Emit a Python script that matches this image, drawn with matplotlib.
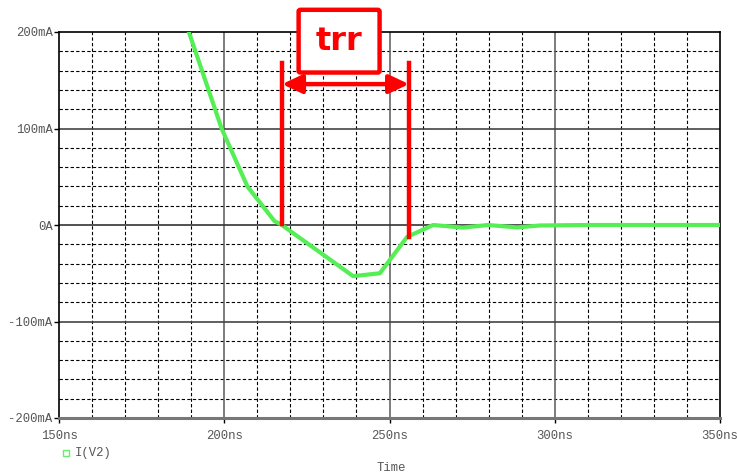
import matplotlib
matplotlib.use("Agg")
import matplotlib.pyplot as plt
from matplotlib.patches import FancyBboxPatch

# I(V2) transient, time in ns, current in mA
t_ns = [186.0, 189.3, 199.2, 207.0, 215.2, 217.0, 239.0, 247.1, 255.3,
        263.2, 272.2, 279.8, 288.6, 295.5, 310.0, 330.0, 350.0]
i_ma = [230.0, 200.0, 100.0, 40.0, 4.0, 1.0, -53.0, -50.0, -12.4,
        0.0, -2.7, 0.0, -2.5, -0.5, 0.0, 0.0, 0.0]

x_ticks = [150, 200, 250, 300, 350]
x_labels = ["150ns", "200ns", "250ns", "300ns", "350ns"]
y_ticks = [-200, -100, 0, 100, 200]
y_labels = ["-200mA", "-100mA", "0A", "100mA", "200mA"]

# reverse recovery markers
trr_start = 217.5
trr_end = 255.9

W, H = 737, 476
fig = plt.figure(figsize=(W / 100, H / 100), dpi=100)
ax = fig.add_axes([59 / W, 58 / H, 661 / W, 386 / H])
ax.set_xlim(150, 350)
ax.set_ylim(-200, 200)

mono = "Liberation Mono"
grey = "#555555"

# minor dashed grid
for x in range(160, 350, 10):
    if x % 50:
        ax.axvline(x, color="black", lw=0.8, dashes=(3, 2), zorder=1)
for y in range(-180, 200, 20):
    if y % 100:
        ax.axhline(y, color="black", lw=0.8, dashes=(3, 2), zorder=1)
# major solid grid
for x in [200, 250, 300]:
    ax.axvline(x, color="#666666", lw=1.2, zorder=1)
for y in [-100, 100]:
    ax.axhline(y, color="#444444", lw=1.2, zorder=1)
ax.axhline(0, color="#333333", lw=1.2, zorder=1)

for side in ["left", "top", "right"]:
    ax.spines[side].set_color("black")
    ax.spines[side].set_linewidth(1.2)
ax.spines["bottom"].set_color("#777777")
ax.spines["bottom"].set_linewidth(2.2)

ax.set_xticks(x_ticks)
ax.set_xticklabels(x_labels)
ax.set_yticks(y_ticks)
ax.set_yticklabels(y_labels)
ax.tick_params(direction="out", length=3.6, width=1, color="black",
               labelcolor=grey, labelsize=8.8, pad=1)
ax.tick_params(axis="x", pad=5)
for lab in ax.get_xticklabels() + ax.get_yticklabels():
    lab.set_fontfamily(mono)

ax.plot(t_ns, i_ma, color="#55ee55", lw=3, solid_joinstyle="round", zorder=3)

# trr annotation
red = "#ff0000"
ax.plot([trr_start, trr_start], [1.0, 168], color=red, lw=3.2,
        clip_on=False, zorder=4)
ax.plot([trr_end, trr_end], [-12.4, 168], color=red, lw=3.2,
        clip_on=False, zorder=4)
ax.annotate("", xy=(trr_start, 146), xytext=(trr_end, 146),
            arrowprops=dict(arrowstyle="<|-|>,head_length=0.85,head_width=0.4",
                            mutation_scale=14, color=red, lw=3.2,
                            shrinkA=0, shrinkB=0),
            annotation_clip=False, zorder=4)
box = FancyBboxPatch((222.5, 158), 24.5, 65, boxstyle="round,pad=0,rounding_size=0.6",
                     fc="white", ec=red, lw=3.2, clip_on=False, zorder=5,
                     mutation_aspect=3)
ax.add_patch(box)
ax.text(234.7, 190, "trr", color=red, fontsize=23, fontweight="bold",
        family=["Liberation Sans Narrow", "DejaVu Sans"],
        ha="center", va="center", zorder=6, clip_on=False)

# legend and axis title
fig.patches.append(plt.Rectangle((63 / W, 1 - 456 / H), 6 / W, 6 / H,
                                 transform=fig.transFigure, fill=False,
                                 ec="#66ee66", lw=1))
fig.text(75 / W, 1 - 453 / H, "I(V2)", color=grey, fontsize=8.8,
         family=mono, va="center", ha="left")
fig.text(391 / W, 1 - 468 / H, "Time", color=grey, fontsize=8.8,
         family=mono, va="center", ha="center")

fig.savefig("out.png", dpi=100)
